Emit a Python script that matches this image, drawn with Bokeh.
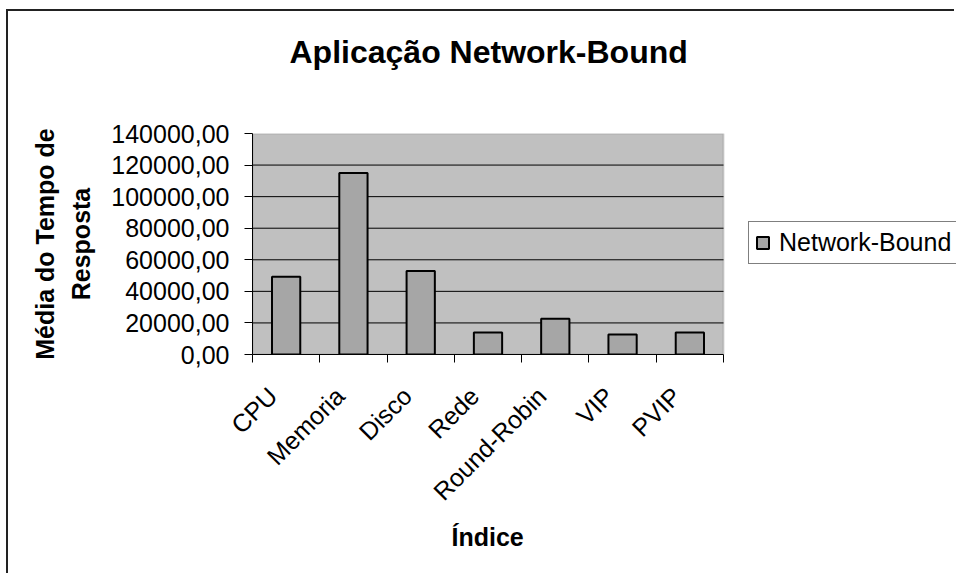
import numpy as np
from bokeh.plotting import figure
from bokeh.models import (FixedTicker, Range1d, Legend, LegendItem, ColumnDataSource,
                          BoxAnnotation, Title, LinearAxis)
from bokeh.embed import file_html
from bokeh.resources import INLINE

title_text = "Aplicação Network-Bound"
categories = ["CPU", "Memoria", "Disco", "Rede", "Round-Robin", "VIP", "PVIP"]
values = [49200, 114900, 52900, 13900, 22700, 12600, 14000]
series_name = "Network-Bound"
y_ticks = [0, 20000, 40000, 60000, 80000, 100000, 120000, 140000]
y_tick_labels = ["0,00", "20000,00", "40000,00", "60000,00", "80000,00",
                 "100000,00", "120000,00", "140000,00"]
x_axis_label = "Índice"
y_axis_label = "Média do Tempo de\nResposta"

FONT = "Liberation Sans"

# layout (pixels)
W, H = 948, 564
LEFT, TOP, BOTTOM = 244, 122, 221
FRAME_W = W - LEFT
PLOT_W = 471                      # width of the grey plot area inside the frame

n = len(categories)
positions = [i + 0.5 for i in range(n)]
boundaries = list(range(n + 1))
label_pos = [x - 0.2 for x in positions]
src = ColumnDataSource(dict(x=positions, top=values, cat=categories))
grid_src = ColumnDataSource(dict(y=y_ticks[1:-1]))

x_end = n * FRAME_W / PLOT_W

p = figure(width=W, height=H, output_backend="svg", toolbar_location=None, title=None,
           x_range=Range1d(0, x_end), y_range=Range1d(y_ticks[0], y_ticks[-1]),
           min_border_left=LEFT, min_border_right=0, min_border_top=TOP,
           min_border_bottom=BOTTOM)
p.styles = {"border-left": "2px solid #222222", "border-top": "2px solid #222222",
            "margin-left": "6px", "margin-top": "9px"}
p.outline_line_color = None
p.background_fill_color = "white"
p.border_fill_color = "white"
p.xgrid.visible = False
p.ygrid.visible = False

xa = p.xaxis[0]
ya = p.yaxis[0]

# grey plot area
p.add_layout(BoxAnnotation(left=0, right=n, bottom=y_ticks[0], top=y_ticks[-1],
                           fill_color="#C0C0C0", fill_alpha=1,
                           line_color="#808080", line_width=2, level="underlay"))

# horizontal grid lines
p.segment(x0=0, x1=n, y0="y", y1="y", source=grid_src, line_color="black", line_width=1)

r = p.vbar(x="x", top="top", width=0.42, bottom=0, source=src,
           fill_color="#A6A6A6", line_color="black", line_width=2)

# spacer between frame and title: an axis with one white tick at the far right edge
spacer_tick = round(x_end - 0.05, 1)
spacer = LinearAxis(ticker=FixedTicker(ticks=[spacer_tick]), major_tick_out=64,
                    major_tick_in=0, minor_tick_out=0, minor_tick_in=0,
                    axis_line_color=None, major_tick_line_color="white",
                    minor_tick_line_color=None, major_label_standoff=0,
                    major_label_text_font_size="1px", major_label_text_color="white",
                    major_label_overrides={spacer_tick: ""})
p.add_layout(spacer, "above")

main_title = Title(text=title_text, align="left", offset=37, standoff=0,
                   text_font=FONT, text_font_size="32px", text_font_style="bold",
                   text_color="black")
p.add_layout(main_title, "above")

# x axis
xa.bounds = (0, n)
xa.ticker = FixedTicker(ticks=label_pos, minor_ticks=boundaries)
xa.major_label_overrides = {pos: c for pos, c in zip(label_pos, categories)}
xa.major_tick_in = 0
xa.major_tick_out = 0
xa.minor_tick_in = 0
xa.minor_tick_out = 8
xa.minor_tick_line_color = "black"
xa.major_label_orientation = np.pi / 4
xa.major_label_text_font = FONT
xa.major_label_text_font_size = "25px"
xa.major_label_text_color = "black"
xa.major_label_standoff = 29
xa.axis_line_color = "black"

x_title = Title(text=x_axis_label, align="left", offset=199, standoff=4,
                text_font=FONT, text_font_size="25px", text_font_style="bold",
                text_color="black")
p.add_layout(x_title, "below")

# y axis
ya.ticker = FixedTicker(ticks=y_ticks)
ya.major_label_overrides = {t: l for t, l in zip(y_ticks, y_tick_labels)}
ya.major_tick_in = 0
ya.major_tick_out = 8
ya.major_tick_line_color = "black"
ya.minor_tick_out = 0
ya.minor_tick_in = 0
ya.major_label_text_font = FONT
ya.major_label_text_font_size = "25px"
ya.major_label_text_color = "black"
ya.major_label_standoff = 15
ya.axis_line_color = "black"
ya.axis_label = y_axis_label
ya.axis_label_text_font = FONT
ya.axis_label_text_font_size = "25px"
ya.axis_label_text_font_style = "bold"
ya.axis_label_text_color = "black"
ya.axis_label_text_line_height = 1.28
ya.axis_label_standoff = 13

legend = Legend(items=[LegendItem(label=series_name, renderers=[r])],
                location=(496, 90))
legend.border_line_color = "black"
legend.border_line_width = 1
legend.background_fill_color = "white"
legend.background_fill_alpha = 1
legend.label_text_font = FONT
legend.label_text_font_size = "25px"
legend.label_text_color = "black"
legend.glyph_width = 15
legend.glyph_height = 15
legend.label_standoff = 9
legend.padding = 6
legend.margin = 0
legend.spacing = 0
p.add_layout(legend, "center")

open("out.html", "w").write(file_html(p, INLINE))
